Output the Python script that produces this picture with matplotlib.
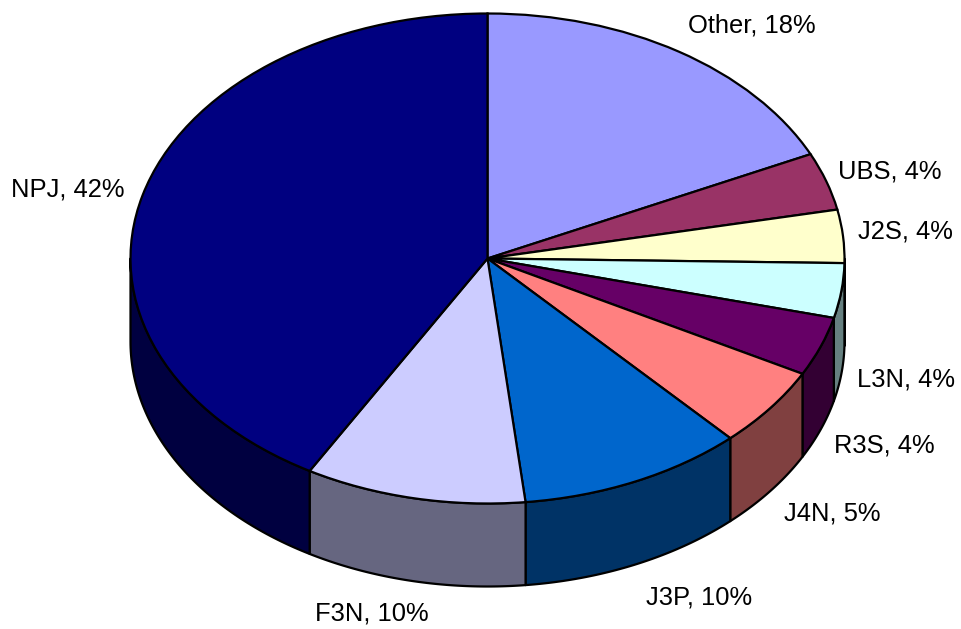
import matplotlib
matplotlib.use('Agg')
import matplotlib.pyplot as plt
import numpy as np

# clockwise from 12 o'clock
names = ['Other', 'UBS', 'J2S', 'L3N', 'R3S', 'J4N', 'J3P', 'F3N', 'NPJ']
values = [18.0, 3.8, 3.5, 3.6, 3.9, 5.3, 10.2, 10.0, 41.7]
shown = ['18%', '4%', '4%', '4%', '4%', '5%', '10%', '10%', '42%']

top_colors = ['#9999FF', '#993366', '#FFFFCC', '#CCFFFF', '#660066',
              '#FF8080', '#0066CC', '#CCCCFF', '#000080']
wall_colors = ['#4D4D80', '#4D1A33', '#808066', '#668080', '#330033',
               '#804040', '#003366', '#666680', '#000040']

W, H = 961, 629
cx, cy = 487.5, 258.5  # pie centre in pixels
rx, ry = 357, 245      # ellipse radii
depth = 83 / ry        # wall height in y units (pie radius = 1)

plt.rcParams['font.family'] = ['Liberation Sans', 'DejaVu Sans']

fig = plt.figure(figsize=(W / 100, H / 100), dpi=100)
ax = fig.add_axes([0, 0, 1, 1])


def to_data(px, py):
    return (px - cx) / rx, (cy - py) / ry


edges = np.cumsum([0] + values) / sum(values) * 2 * np.pi

# walls, only the front half of the rim shows
for i in range(len(values)):
    a0 = max(edges[i], np.pi / 2)
    a1 = min(edges[i + 1], 3 * np.pi / 2)
    if a1 <= a0:
        continue
    t = np.linspace(a0, a1, 80)
    xs = np.sin(t)
    ys = np.cos(t)
    ax.fill(np.r_[xs, xs[::-1]], np.r_[ys, ys[::-1] - depth],
            facecolor=wall_colors[i], edgecolor='black', linewidth=1.6,
            joinstyle='round', zorder=1)

ax.pie(values, colors=top_colors, startangle=90, counterclock=False,
       radius=1, wedgeprops={'edgecolor': 'black', 'linewidth': 1.6, 'zorder': 2})

ax.set_aspect('auto')
ax.set_xlim(to_data(0, 0)[0], to_data(W, 0)[0])
ax.set_ylim(to_data(0, H)[1], to_data(0, 0)[1])
ax.axis('off')

# label centres, pixels
label_xy = [(752, 25), (890, 172), (905, 232), (906, 379), (884, 446),
            (832, 514), (699, 597), (372, 614), (68, 190)]
for n, s, (px, py) in zip(names, shown, label_xy):
    x, y = to_data(px, py)
    ax.text(x, y, n + ', ' + s, ha='center', va='center', fontsize=18.4,
            color='black', zorder=3)

fig.savefig('out.png', dpi=100)
